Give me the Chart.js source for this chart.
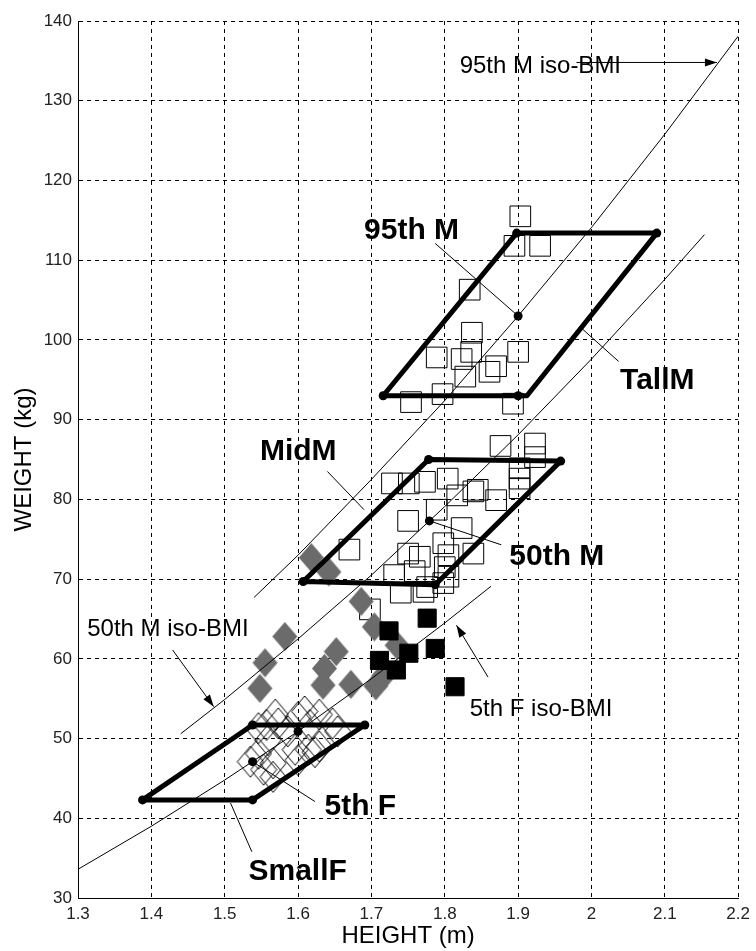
<!DOCTYPE html>
<html>
<head>
<meta charset="utf-8">
<script src="https://cdn.jsdelivr.net/npm/chart.js@4/dist/chart.umd.min.js"></script>
<style>
  html, body { margin: 0; padding: 0; background: #fff; }
  #c { display: block; }
</style>
</head>
<body>
<canvas id="c" width="756" height="951"></canvas>
<script>
// ---- axes ----
const heightTicks = [1.3, 1.4, 1.5, 1.6, 1.7, 1.8, 1.9, 2.0, 2.1, 2.2];
const heightTickLabels = ['1.3', '1.4', '1.5', '1.6', '1.7', '1.8', '1.9', '2', '2.1', '2.2'];
const weightTicks = [30, 40, 50, 60, 70, 80, 90, 100, 110, 120, 130, 140];
const weightTickLabels = ['30', '40', '50', '60', '70', '80', '90', '100', '110', '120', '130', '140'];

// ---- subjects (height m, weight kg) ----
const openSquareHeights = [1.903, 1.895, 1.930, 1.834, 1.837, 1.836, 1.823, 1.789, 1.828, 1.861, 1.870, 1.900, 1.797, 1.754, 1.893,
  1.876, 1.923, 1.923, 1.902, 1.902, 1.902, 1.870, 1.845, 1.728, 1.751, 1.773, 1.804, 1.839, 1.817, 1.789, 1.750, 1.823,
  1.798, 1.750, 1.766, 1.805, 1.839, 1.670, 1.731, 1.759, 1.800, 1.805, 1.740, 1.776, 1.771, 1.698, 1.798];
const openSquareWeights = [115.5, 111.8, 111.8, 106.3, 100.9, 98.5, 97.6, 97.8, 95.4, 96.0, 96.7, 98.5, 93.2, 92.2, 92.0,
  86.7, 87.0, 85.3, 83.9, 82.6, 81.4, 79.9, 81.2, 82.0, 82.0, 82.2, 82.6, 81.0, 80.5, 78.7, 77.3, 76.4,
  74.5, 73.2, 72.8, 73.0, 73.2, 73.7, 70.5, 71.0, 71.5, 70.3, 68.3, 69.0, 68.4, 66.2, 69.5];

const grayDiamondHeights = [1.618, 1.642, 1.686, 1.704, 1.735, 1.582, 1.555, 1.548, 1.652, 1.636, 1.634, 1.672, 1.706, 1.717];
const grayDiamondWeights = [72.7, 70.9, 67.2, 64.0, 61.7, 62.8, 59.5, 56.3, 60.9, 58.8, 56.7, 56.8, 56.6, 57.9];

const blackSquareHeights = [1.776, 1.724, 1.751, 1.711, 1.787, 1.734, 1.814];
const blackSquareWeights = [65.1, 63.5, 60.7, 59.8, 61.3, 58.6, 56.5];

const openDiamondHeights = [1.535, 1.553, 1.566, 1.546, 1.557, 1.573, 1.586, 1.600, 1.609, 1.616, 1.629, 1.647,
  1.654, 1.600, 1.614, 1.629, 1.569, 1.546, 1.559, 1.566, 1.623, 1.596];
const openDiamondWeights = [47.1, 46.1, 46.9, 48.1, 51.7, 51.9, 50.9, 52.7, 53.4, 51.7, 53.0, 51.9,
  50.9, 47.3, 48.6, 49.0, 53.0, 51.3, 49.8, 45.2, 48.3, 48.6];

// ---- target boundaries ----
const tallMHeights = [1.716, 1.912, 2.089, 1.898, 1.716];
const tallMWeights = [93.0, 93.0, 113.4, 113.4, 93.0];
const midMHeights = [1.607, 1.787, 1.958, 1.778, 1.607];
const midMWeights = [69.7, 69.3, 84.8, 85.0, 69.7];
const smallFHeights = [1.388, 1.538, 1.691, 1.538, 1.388];
const smallFWeights = [42.3, 42.3, 51.7, 51.7, 42.3];

const cornerHeights = [1.716, 1.900, 2.089, 1.898, 1.607, 1.787, 1.958, 1.778, 1.388, 1.538, 1.691, 1.538];
const cornerWeights = [93.0, 93.0, 113.4, 113.4, 69.7, 69.3, 84.8, 85.0, 42.3, 42.3, 51.7, 51.7];
// 95th M, 50th M, 5th F reference people and a point on the 5th F iso-BMI curve
const referenceHeights = [1.900, 1.779, 1.538, 1.600];
const referenceWeights = [103.0, 77.3, 47.1, 50.9];

// ---- iso-BMI curves ----
const iso95MHeights = [1.54, 1.6, 1.7, 1.8, 1.9, 2.0, 2.1, 2.2];
const iso95MWeights = [67.7, 73.0, 82.5, 92.4, 103.0, 114.1, 125.8, 138.1];
const iso50MHeights = [1.44, 1.5, 1.6, 1.7, 1.8, 1.9, 2.0, 2.1, 2.154];
const iso50MWeights = [50.6, 54.9, 62.5, 70.5, 79.1, 88.1, 97.6, 107.6, 113.2];
const iso5FHeights = [1.3, 1.4, 1.5, 1.6, 1.7, 1.8, 1.863];
const iso5FWeights = [33.6, 39.0, 44.8, 50.9, 57.5, 64.5, 69.1];

// ---- callouts: [h1, w1, h2, w2] ----
const leaderLines = [
  [1.787, 112.1, 1.900, 103.0],
  [1.986, 101.5, 2.037, 97.3],
  [1.640, 83.5, 1.690, 78.7],
  [1.779, 77.3, 1.877, 74.3],
  [1.538, 47.1, 1.623, 42.1],
  [1.508, 41.9, 1.537, 35.8]
];
const arrowLines = [
  [1.9795, 134.8, 2.171, 134.8],
  [1.429, 61.1, 1.485, 54.0],
  [1.859, 57.7, 1.816, 64.2]
];
const labelTexts = ['95th M iso-BMI', '95th M', 'TallM', 'MidM', '50th M', '50th M iso-BMI', '5th F iso-BMI', '5th F', 'SmallF'];
const labelHeights = [1.8203, 1.690, 2.039, 1.548, 1.888, 1.3126, 1.834, 1.636, 1.5324];
const labelWeights = [133.5, 112.6, 93.9, 85.0, 71.77, 62.86, 52.83, 40.41, 32.26];
const labelBold = [false, true, true, true, true, false, false, true, true];

// ---- helpers ----
const pts = (hs, ws) => hs.map((h, i) => ({ x: h, y: ws[i] }));
const FONT = '"Liberation Sans", Arial, Helvetica, sans-serif';

function diamondImage(w, h, fill, stroke) {
  const c = document.createElement('canvas');
  c.width = w + 2; c.height = h + 2;
  const g = c.getContext('2d');
  g.beginPath();
  g.moveTo(c.width / 2, 1);
  g.lineTo(c.width - 1, c.height / 2);
  g.lineTo(c.width / 2, c.height - 1);
  g.lineTo(1, c.height / 2);
  g.closePath();
  if (fill) { g.fillStyle = fill; g.fill(); }
  if (stroke) { g.strokeStyle = stroke; g.lineWidth = 1; g.stroke(); }
  return c;
}
const grayDiamond = diamondImage(25, 29, '#6b6b6b', null);
const openDiamond = diamondImage(26, 31, null, '#000');

function thickLine(hs, ws) {
  return { data: pts(hs, ws), showLine: true, borderColor: '#000', borderWidth: 5,
    borderJoinStyle: 'round', borderCapStyle: 'round', pointRadius: 0, order: 0 };
}
function thinLine(hs, ws) {
  return { data: pts(hs, ws), showLine: true, borderColor: '#000', borderWidth: 1,
    pointRadius: 0, order: 1 };
}
const segs = [...leaderLines, ...arrowLines].map(s => thinLine([s[0], s[2]], [s[1], s[3]]));

// arrowheads and callout text
const calloutPlugin = {
  id: 'callouts',
  afterDatasetsDraw(chart) {
    const { ctx, scales: { x, y } } = chart;
    ctx.save();
    ctx.fillStyle = '#000';
    for (const s of arrowLines) {
      const x1 = x.getPixelForValue(s[0]), y1 = y.getPixelForValue(s[1]);
      const x2 = x.getPixelForValue(s[2]), y2 = y.getPixelForValue(s[3]);
      const a = Math.atan2(y2 - y1, x2 - x1);
      const len = 12, half = 4;
      ctx.beginPath();
      ctx.moveTo(x2, y2);
      ctx.lineTo(x2 - len * Math.cos(a) + half * Math.sin(a), y2 - len * Math.sin(a) - half * Math.cos(a));
      ctx.lineTo(x2 - len * Math.cos(a) - half * Math.sin(a), y2 - len * Math.sin(a) + half * Math.cos(a));
      ctx.closePath();
      ctx.fill();
    }
    ctx.textAlign = 'left';
    ctx.textBaseline = 'alphabetic';
    labelTexts.forEach((t, i) => {
      ctx.font = (labelBold[i] ? 'bold 30px ' : '24px ') + FONT;
      ctx.fillText(t, x.getPixelForValue(labelHeights[i]), y.getPixelForValue(labelWeights[i]));
    });
    ctx.restore();
  }
};

new Chart(document.getElementById('c'), {
  type: 'scatter',
  data: {
    datasets: [
      thickLine(tallMHeights, tallMWeights),
      thickLine(midMHeights, midMWeights),
      thickLine(smallFHeights, smallFWeights),
      { data: pts(cornerHeights, cornerWeights), pointStyle: 'circle', pointRadius: 4.5,
        backgroundColor: '#000', borderColor: '#000', borderWidth: 0, order: 0 },
      { data: pts(referenceHeights, referenceWeights), pointStyle: 'circle', pointRadius: 4.5,
        backgroundColor: '#000', borderColor: '#000', borderWidth: 0, order: 0 },
      thinLine(iso95MHeights, iso95MWeights),
      thinLine(iso50MHeights, iso50MWeights),
      thinLine(iso5FHeights, iso5FWeights),
      ...segs,
      { data: pts(blackSquareHeights, blackSquareWeights), pointStyle: 'rect', pointRadius: 12.8,
        backgroundColor: '#000', borderColor: '#000', borderWidth: 1, order: 2 },
      { data: pts(grayDiamondHeights, grayDiamondWeights), pointStyle: grayDiamond, pointRadius: 12,
        order: 3 },
      { data: pts(openSquareHeights, openSquareWeights), pointStyle: 'rect', pointRadius: 14.6,
        backgroundColor: 'rgba(0,0,0,0)', borderColor: '#000', borderWidth: 1, order: 4 },
      { data: pts(openDiamondHeights, openDiamondWeights), pointStyle: openDiamond, pointRadius: 12,
        order: 4 }
    ]
  },
  options: {
    responsive: false,
    animation: false,
    devicePixelRatio: 1,
    events: [],
    layout: { padding: { top: 21, right: 12, left: 0, bottom: 0 } },
    plugins: { legend: { display: false }, tooltip: { enabled: false } },
    scales: {
      x: {
        type: 'linear', min: 1.3, max: 2.2,
        afterBuildTicks: s => { s.ticks = heightTicks.map(v => ({ value: v })); },
        afterFit: s => { s.height = 53; },
        ticks: { callback: (v, i) => heightTickLabels[i], color: '#222', padding: 6,
          font: { family: FONT, size: 17 }, maxRotation: 0, autoSkip: false },
        grid: { color: '#000', lineWidth: 1, drawTicks: false },
        border: { display: true, color: '#000', width: 1, dash: [4, 4] },
        title: { display: true, text: 'HEIGHT (m)', color: '#000',
          font: { family: FONT, size: 24 }, padding: { top: 0, bottom: 0 } }
      },
      y: {
        type: 'linear', min: 30, max: 140,
        afterBuildTicks: s => { s.ticks = weightTicks.map(v => ({ value: v })); },
        afterFit: s => { s.width = 78; },
        ticks: { callback: (v, i) => weightTickLabels[i], color: '#222', padding: 6,
          font: { family: FONT, size: 17 }, autoSkip: false },
        grid: { color: '#000', lineWidth: 1, drawTicks: false },
        border: { display: true, color: '#000', width: 1, dash: [4, 4] },
        title: { display: true, text: 'WEIGHT (kg)', color: '#000',
          font: { family: FONT, size: 24 }, padding: { top: 10, bottom: 0 } }
      }
    }
  },
  plugins: [calloutPlugin]
});
</script>
</body>
</html>
